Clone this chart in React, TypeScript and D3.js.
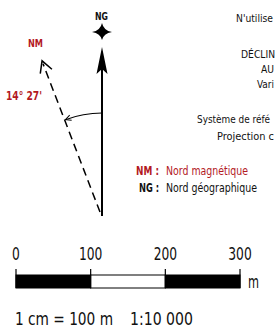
import * as d3 from 'd3'
import { useEffect, useRef } from 'react'

const scaleTicks = [0, 100, 200, 300]
const scaleFills = ['#000', '#fff', '#000']
const scaleUnit = 'm'
const scaleText = ['1 cm = 100 m', '1:10 000']
const declination = "14° 27'"
// the notes column is cut by the right edge in the original, only the visible part is kept
const notes = [
  { text: "N'utilise", x: 236, y: 22, w: 37 },
  { text: 'DÉCLIN', x: 241, y: 58, w: 34 },
  { text: 'AU', x: 261, y: 73, w: 13 },
  { text: 'Vari', x: 257, y: 88, w: 17 },
  { text: 'Système de réfé', x: 197, y: 123, w: 73 },
  { text: 'Projection c', x: 217, y: 140, w: 57 },
]
const legend = [
  { key: 'NM :', label: 'Nord magnétique', color: '#b3191f' },
  { key: 'NG :', label: 'Nord géographique', color: '#111' },
]
const legendWidths = [[23, 82], [20, 91]]

const FONT = "'DejaVu Sans', sans-serif"
const RED = '#b3191f'

export default function App() {
  const svgRef = useRef<SVGSVGElement | null>(null)

  useEffect(() => {
    document.body.style.margin = '0'
    if (!svgRef.current)
      return
    const svg = d3.select(svgRef.current)
    svg.selectAll('*').remove()
    svg.attr('font-family', FONT).style('font-stretch', 'condensed')

    const txt = (s: string, x: number, y: number, size: number, w: number, opts: { bold?: boolean, fill?: string, anchor?: string } = {}) =>
      svg.append('text')
        .attr('x', x).attr('y', y)
        .attr('text-anchor', opts.anchor ?? 'start')
        .attr('font-size', size)
        .attr('font-weight', opts.bold ? 'bold' : 'normal')
        .attr('fill', opts.fill ?? '#111')
        .attr('textLength', w)
        .attr('lengthAdjust', 'spacingAndGlyphs')
        .text(s)

    const defs = svg.append('defs')
    defs.append('marker')
      .attr('id', 'arcHead')
      .attr('viewBox', '0 0 10 10')
      .attr('refX', 9).attr('refY', 5)
      .attr('markerWidth', 7).attr('markerHeight', 7)
      .attr('markerUnits', 'userSpaceOnUse')
      .attr('orient', 'auto')
      .append('path')
      .attr('d', 'M1,1 L9,5 L1,9')
      .attr('fill', 'none').attr('stroke', '#000').attr('stroke-width', 1.4)

    // geographic north
    const base = { x: 102, y: 216 }
    const ngTop = 47
    svg.append('line')
      .attr('x1', base.x).attr('y1', base.y)
      .attr('x2', base.x).attr('y2', ngTop + 10)
      .attr('stroke', '#000').attr('stroke-width', 2)
    svg.append('path')
      .attr('d', `M${base.x},${ngTop} L${base.x + 5.5},${ngTop + 27} L${base.x},${ngTop + 22} L${base.x - 5.5},${ngTop + 27} Z`)
      .attr('fill', '#000')

    const sc = { x: 102, y: 32 }
    svg.append('path')
      .attr('d', `M${sc.x},${sc.y - 9} Q${sc.x + 1.5},${sc.y - 1.5} ${sc.x + 10},${sc.y} Q${sc.x + 1.5},${sc.y + 1.5} ${sc.x},${sc.y + 8} Q${sc.x - 1.5},${sc.y + 1.5} ${sc.x - 10},${sc.y} Q${sc.x - 1.5},${sc.y - 1.5} ${sc.x},${sc.y - 9} Z`)
      .attr('fill', '#000')
    txt('NG', 95, 20, 11, 13, { bold: true })

    // magnetic north
    const angle = 20.8 * Math.PI / 180
    const len = 166
    const tip = { x: base.x - 1 - Math.sin(angle) * len, y: base.y - Math.cos(angle) * len }
    svg.append('line')
      .attr('x1', base.x - 2).attr('y1', base.y - 4)
      .attr('x2', tip.x + 1).attr('y2', tip.y + 3)
      .attr('stroke', '#000').attr('stroke-width', 1.5)
      .attr('stroke-dasharray', '8,5')
    const ah = 13
    const a1 = angle + 0.5, a2 = angle - 0.5
    svg.append('path')
      .attr('d', `M${tip.x + Math.sin(a1) * ah},${tip.y + Math.cos(a1) * ah} L${tip.x},${tip.y} L${tip.x + Math.sin(a2) * ah},${tip.y + Math.cos(a2) * ah}`)
      .attr('fill', 'none').attr('stroke', '#000').attr('stroke-width', 1.5)
    txt('NM', 28, 47, 11, 15, { bold: true, fill: RED })
    txt(declination, 6, 100, 12, 36, { bold: true, fill: RED })

    // angle arc
    const r = 103
    svg.append('path')
      .attr('transform', `translate(${base.x},${base.y})`)
      .attr('d', `M0,${-r} A${r},${r} 0 0 0 ${-Math.sin(angle) * r},${-Math.cos(angle) * r}`)
      .attr('fill', 'none').attr('stroke', '#000').attr('stroke-width', 1.2)
      .attr('marker-end', 'url(#arcHead)')

    // notes
    notes.forEach(n => txt(n.text, n.x, n.y, 10.5, n.w))

    // legend
    legend.forEach((d, i) => {
      const y = 175 + i * 17
      txt(d.key, 159, y, 11.5, legendWidths[i][0], { bold: true, fill: d.color, anchor: 'end' })
      txt(d.label, 166, y, 11.5, legendWidths[i][1], { fill: d.color })
    })

    // scale bar
    const x = d3.scaleLinear().domain([0, 300]).range([16, 240])
    const barTop = 275, barBottom = 288
    const g = svg.append('g')
    g.selectAll('rect')
      .data(scaleFills)
      .enter()
      .append('rect')
      .attr('x', (_, i) => x(scaleTicks[i]))
      .attr('y', barTop)
      .attr('width', (_, i) => x(scaleTicks[i + 1]) - x(scaleTicks[i]))
      .attr('height', barBottom - barTop)
      .attr('fill', d => d)
      .attr('stroke', '#000').attr('stroke-width', 1)
    g.selectAll('line')
      .data(scaleTicks)
      .enter()
      .append('line')
      .attr('x1', d => x(d)).attr('x2', d => x(d))
      .attr('y1', 269).attr('y2', barBottom)
      .attr('stroke', '#000').attr('stroke-width', 1.2)
    g.selectAll('text')
      .data(scaleTicks)
      .enter()
      .append('text')
      .attr('x', d => x(d)).attr('y', 260)
      .attr('text-anchor', 'middle')
      .attr('font-size', 18)
      .attr('fill', '#111')
      .attr('textLength', d => String(d).length * 7.8)
      .attr('lengthAdjust', 'spacingAndGlyphs')
      .text(d => d)
    txt(scaleUnit, 248, 288, 17.5, 11)
    txt(scaleText[0], 15, 325, 17, 98)
    txt(scaleText[1], 130, 325, 17, 63)
  }, [])

  return <svg ref={svgRef} width={275} height={335} style={{ display: 'block', overflow: 'hidden' }}></svg>
}
